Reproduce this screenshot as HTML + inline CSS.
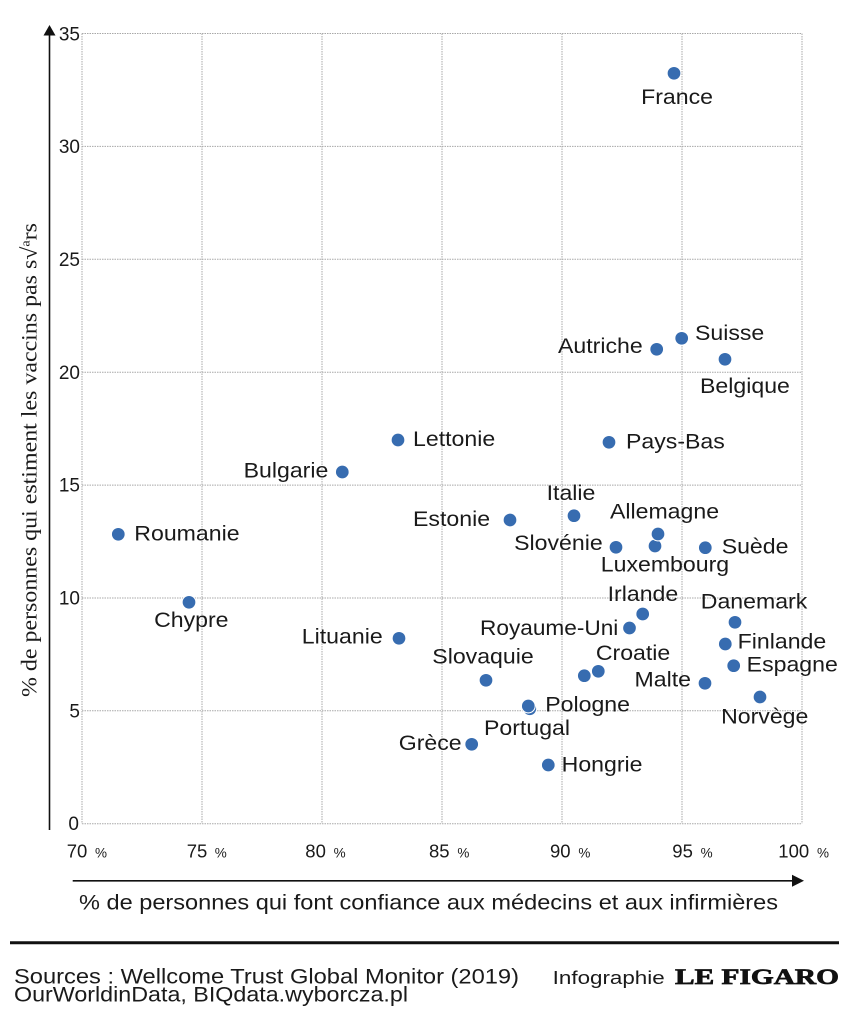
<!DOCTYPE html>
<html>
<head>
<meta charset="utf-8">
<style>
  html, body { margin: 0; padding: 0; background: #ffffff; }
  body { width: 862px; height: 1024px; overflow: hidden; }
  svg { display: block; }
  text { font-family: "Liberation Sans", sans-serif; fill: #1a1a1a; }
</style>
</head>
<body>
<svg width="862" height="1024" viewBox="0 0 862 1024" xmlns="http://www.w3.org/2000/svg">
  <rect x="0" y="0" width="862" height="1024" fill="#ffffff"/>

  <!-- grid -->
  <g stroke="#a8a8a8" stroke-width="1" stroke-dasharray="1.5 1" fill="none">
    <line x1="82" y1="33.5" x2="82" y2="823.7"/>
    <line x1="202" y1="33.5" x2="202" y2="823.7"/>
    <line x1="322" y1="33.5" x2="322" y2="823.7"/>
    <line x1="442" y1="33.5" x2="442" y2="823.7"/>
    <line x1="562" y1="33.5" x2="562" y2="823.7"/>
    <line x1="682" y1="33.5" x2="682" y2="823.7"/>
    <line x1="802" y1="33.5" x2="802" y2="823.7"/>
    <line x1="82" y1="33.5" x2="802" y2="33.5"/>
    <line x1="82" y1="146.4" x2="802" y2="146.4"/>
    <line x1="82" y1="259.3" x2="802" y2="259.3"/>
    <line x1="82" y1="372.2" x2="802" y2="372.2"/>
    <line x1="82" y1="485.1" x2="802" y2="485.1"/>
    <line x1="82" y1="598.0" x2="802" y2="598.0"/>
    <line x1="82" y1="710.8" x2="802" y2="710.8"/>
    <line x1="82" y1="823.7" x2="802" y2="823.7"/>
  </g>

  <!-- y axis arrow -->
  <line x1="49.5" y1="33" x2="49.5" y2="830" stroke="#111" stroke-width="1.6"/>
  <polygon points="49.5,25 43.5,35.5 55.5,35.5" fill="#111"/>

  <!-- x axis arrow -->
  <line x1="72.7" y1="880.8" x2="795" y2="880.8" stroke="#111" stroke-width="1.6"/>
  <polygon points="804,880.8 792,874.8 792,886.8" fill="#111"/>

  <!-- y tick labels -->
  <g font-size="19" text-anchor="end">
    <text x="80" y="40.3">35</text>
    <text x="80" y="152.8">30</text>
    <text x="80" y="265.8">25</text>
    <text x="80" y="378.8">20</text>
    <text x="80" y="491.6">15</text>
    <text x="80" y="604.5">10</text>
    <text x="80" y="717.3">5</text>
    <text x="79" y="829.8">0</text>
  </g>

  <!-- x tick labels -->
  <g font-size="18.5">
    <text x="66.7" y="857.3">70</text><text x="95" y="857.3" font-size="13.5">%</text>
    <text x="186.7" y="857.3">75</text><text x="214.7" y="857.3" font-size="13.5">%</text>
    <text x="305.3" y="857.3">80</text><text x="333.6" y="857.3" font-size="13.5">%</text>
    <text x="429" y="857.3">85</text><text x="457.4" y="857.3" font-size="13.5">%</text>
    <text x="550" y="857.3">90</text><text x="578.4" y="857.3" font-size="13.5">%</text>
    <text x="672.3" y="857.3">95</text><text x="700.6" y="857.3" font-size="13.5">%</text>
    <text x="778.3" y="857.3">100</text><text x="817" y="857.3" font-size="13.5">%</text>
  </g>

  <!-- x axis title -->
  <text x="79" y="909.3" font-size="21.5" textLength="699" lengthAdjust="spacingAndGlyphs">% de personnes qui font confiance aux médecins et aux infirmières</text>

  <!-- y axis title -->
  <text transform="translate(36.5,697) rotate(-90)" x="0" y="0" font-size="22" textLength="474" lengthAdjust="spacingAndGlyphs" style="font-family:'Liberation Serif', serif;">% de personnes qui estiment les vaccins pas s√<tspan font-size="13" dy="-7">a</tspan><tspan dy="7">rs</tspan></text>

  <!-- dots -->
  <g fill="#376cb0" stroke="#ffffff" stroke-width="1.1">
    <circle cx="674" cy="73.3" r="6.9"/>
    <circle cx="681.7" cy="338.3" r="6.9"/>
    <circle cx="656.7" cy="349.3" r="6.9"/>
    <circle cx="725" cy="359.3" r="6.9"/>
    <circle cx="398" cy="440" r="6.9"/>
    <circle cx="609" cy="442.3" r="6.9"/>
    <circle cx="342.3" cy="472" r="6.9"/>
    <circle cx="574" cy="515.7" r="6.9"/>
    <circle cx="510" cy="520" r="6.9"/>
    <circle cx="118.3" cy="534.3" r="6.9"/>
    <circle cx="655" cy="546" r="6.9"/>
    <circle cx="658" cy="534" r="6.9"/>
    <circle cx="616" cy="547.3" r="6.9"/>
    <circle cx="705.3" cy="547.7" r="6.9"/>
    <circle cx="189" cy="602.3" r="6.9"/>
    <circle cx="642.7" cy="614" r="6.9"/>
    <circle cx="735" cy="622.3" r="6.9"/>
    <circle cx="629.5" cy="628" r="6.9"/>
    <circle cx="399" cy="638.3" r="6.9"/>
    <circle cx="725.3" cy="644" r="6.9"/>
    <circle cx="733.7" cy="665.7" r="6.9"/>
    <circle cx="584.3" cy="675.7" r="6.9"/>
    <circle cx="598.3" cy="671.3" r="6.9"/>
    <circle cx="486" cy="680.3" r="6.9"/>
    <circle cx="705" cy="683.3" r="6.9"/>
    <circle cx="760" cy="697" r="6.9"/>
    <circle cx="529.8" cy="708.8" r="6.9"/>
    <circle cx="528.3" cy="706" r="6.9"/>
    <circle cx="471.7" cy="744.3" r="6.9"/>
    <circle cx="548.3" cy="765" r="6.9"/>
  </g>

  <!-- country labels -->
  <g transform="scale(1.1,1)" font-size="21">
    <text x="615.5" y="104" text-anchor="middle">France</text>
    <text x="631.8" y="340">Suisse</text>
    <text x="584.3" y="353" text-anchor="end">Autriche</text>
    <text x="636.4" y="393">Belgique</text>
    <text x="375.5" y="446">Lettonie</text>
    <text x="569.1" y="448.5">Pays-Bas</text>
    <text x="298.5" y="477.7" text-anchor="end">Bulgarie</text>
    <text x="519.1" y="500" text-anchor="middle">Italie</text>
    <text x="445.5" y="526" text-anchor="end">Estonie</text>
    <text x="122.1" y="540.7">Roumanie</text>
    <text x="604.1" y="518.3" text-anchor="middle">Allemagne</text>
    <text x="604.5" y="571.7" text-anchor="middle">Luxembourg</text>
    <text x="547.9" y="550" text-anchor="end">Slovénie</text>
    <text x="656.1" y="553.3">Suède</text>
    <text x="173.9" y="627" text-anchor="middle">Chypre</text>
    <text x="584.5" y="601" text-anchor="middle">Irlande</text>
    <text x="685.5" y="608.3" text-anchor="middle">Danemark</text>
    <text x="562.1" y="635" text-anchor="end" textLength="125.7" lengthAdjust="spacingAndGlyphs">Royaume-Uni</text>
    <text x="347.9" y="643.3" text-anchor="end">Lituanie</text>
    <text x="670.6" y="648.3">Finlande</text>
    <text x="678.8" y="671.7">Espagne</text>
    <text x="575.5" y="660" text-anchor="middle">Croatie</text>
    <text x="439.1" y="663.3" text-anchor="middle">Slovaquie</text>
    <text x="628.2" y="686.7" text-anchor="end">Malte</text>
    <text x="695.2" y="723.3" text-anchor="middle">Norvège</text>
    <text x="495.7" y="711.7">Pologne</text>
    <text x="479.1" y="735" text-anchor="middle">Portugal</text>
    <text x="419.7" y="750" text-anchor="end">Grèce</text>
    <text x="510.6" y="771.7">Hongrie</text>
  </g>

  <!-- separator -->
  <line x1="10" y1="942.7" x2="839" y2="942.7" stroke="#111" stroke-width="3"/>

  <!-- sources -->
  <text x="14" y="983.3" font-size="21" textLength="505" lengthAdjust="spacingAndGlyphs">Sources : Wellcome Trust Global Monitor (2019)</text>
  <text x="14" y="1001.7" font-size="21" textLength="394" lengthAdjust="spacingAndGlyphs">OurWorldinData, BIQdata.wyborcza.pl</text>

  <text x="552.7" y="984" font-size="18" textLength="112" lengthAdjust="spacingAndGlyphs">Infographie</text>
  <text x="675" y="984" font-size="22" font-weight="bold" textLength="164" lengthAdjust="spacingAndGlyphs" stroke="#111" stroke-width="0.7" style="font-family:'Liberation Serif', serif; fill:#111;">LE FIGARO</text>
</svg>
</body>
</html>
